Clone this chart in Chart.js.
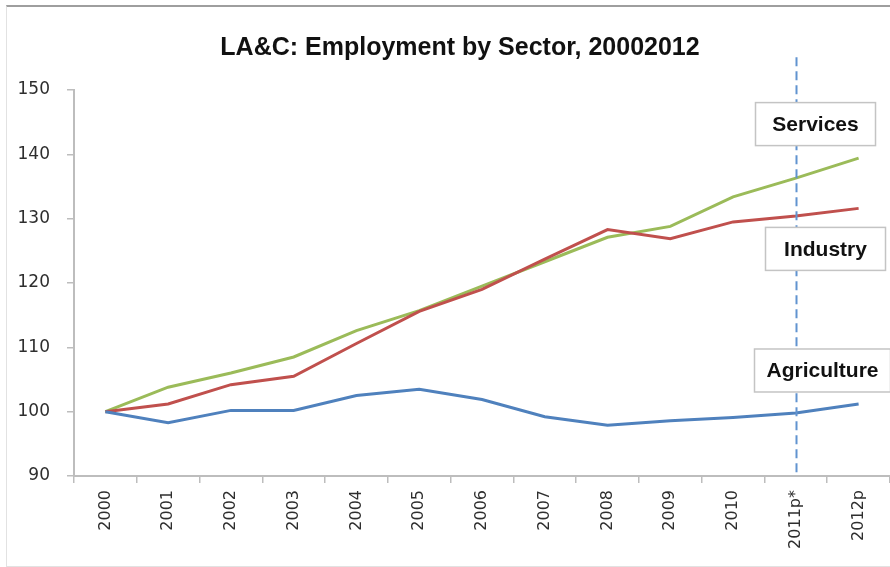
<!DOCTYPE html>
<html>
<head>
<meta charset="utf-8">
<title>LA&amp;C: Employment by Sector</title>
<script src="https://cdn.jsdelivr.net/npm/chart.js@4/dist/chart.umd.min.js"></script>
<style>
  html, body { margin: 0; padding: 0; background: #fff; }
  #wrap { position: relative; width: 890px; height: 567px; overflow: hidden; }
  #frame {
    position: absolute; left: 6px; top: 5px; width: 920px; height: 559px;
    border-top: 2px solid #9e9e9e; border-left: 1px solid #e2e2e2; border-bottom: 1px solid #e2e2e2;
  }
  #chartLite { position: absolute; left: 0; top: 0; }
</style>
</head>
<body>
<div id="wrap">
  <div id="frame"></div>
  <canvas id="chartLite" width="890" height="567"></canvas>
</div>
<script>
// index, 2000 = 100
const years = ['2000', '2001', '2002', '2003', '2004', '2005', '2006', '2007', '2008', '2009', '2010', '2011p*', '2012p'];
const services = [100, 103.8, 106.0, 108.5, 112.6, 115.7, 119.5, 123.3, 127.1, 128.8, 133.4, 136.3, 139.4];
const industry = [100, 101.2, 104.2, 105.5, 110.6, 115.6, 119.0, 123.7, 128.3, 126.9, 129.5, 130.4, 131.6];
const agriculture = [100, 98.3, 100.2, 100.2, 102.5, 103.5, 101.9, 99.2, 97.9, 98.6, 99.1, 99.8, 101.2];
const yTicks = [90, 100, 110, 120, 130, 140, 150];

const titleText = 'LA&C: Employment by Sector, 20002012';
const projectionStart = '2011p*';

// series name boxes, anchored on the projection line
const seriesLabels = [
    { text: 'Services', value: 144.7, dx: 19, w: 120 },
    { text: 'Industry', value: 125.3, dx: 29, w: 120 },
    { text: 'Agriculture', value: 106.4, dx: 26, w: 136 }
];

let data = {
    labels: years,
    datasets: [{
            label: 'Agriculture',
            data: agriculture,
            borderColor: '#4F81BD',
            backgroundColor: '#4F81BD',
            borderWidth: 3,
            pointRadius: 0,
            tension: 0,
            fill: false
        },
        {
            label: 'Industry',
            data: industry,
            borderColor: '#C0504D',
            backgroundColor: '#C0504D',
            borderWidth: 3,
            pointRadius: 0,
            tension: 0,
            fill: false
        },
        {
            label: 'Services',
            data: services,
            borderColor: '#9BBB59',
            backgroundColor: '#9BBB59',
            borderWidth: 3,
            pointRadius: 0,
            tension: 0,
            fill: false
        }
    ]
};

// dashed projection marker, name boxes and title
const overlay = {
    id: 'overlay',
    afterDatasetsDraw(chart) {
        const c = chart.ctx;
        const xs = chart.scales.x, ys = chart.scales.y;
        const px = Math.round(xs.getPixelForValue(years.indexOf(projectionStart))) + 0.5;

        c.save();
        c.strokeStyle = '#6193d0';
        c.lineWidth = 2;
        c.setLineDash([9, 5]);
        c.beginPath();
        c.moveTo(px, ys.getPixelForValue(155.1));
        c.lineTo(px, ys.bottom);
        c.stroke();
        c.restore();

        c.save();
        c.font = 'bold 21px "Liberation Sans", Arial, sans-serif';
        c.textAlign = 'center';
        c.textBaseline = 'middle';
        seriesLabels.forEach(function (lab) {
            const cx = px + lab.dx;
            const cy = ys.getPixelForValue(lab.value);
            const h = 43;
            c.fillStyle = '#ffffff';
            c.fillRect(cx - lab.w / 2, cy - h / 2, lab.w, h);
            c.strokeStyle = '#c4c4c4';
            c.lineWidth = 1.5;
            c.strokeRect(cx - lab.w / 2, cy - h / 2, lab.w, h);
            c.fillStyle = '#111111';
            c.fillText(lab.text, cx, cy + 1);
        });
        c.restore();

        c.save();
        c.font = 'bold 25px "Liberation Sans", Arial, sans-serif';
        c.fillStyle = '#111111';
        c.textAlign = 'center';
        c.textBaseline = 'middle';
        c.fillText(titleText, 460, 48);
        c.restore();
    }
};

let options = {
    responsive: false,
    animation: false,
    layout: {
        padding: { top: 90, left: 0, right: 0, bottom: 0 }
    },
    scales: {
        x: {
            offset: true,
            grid: {
                offset: true,
                drawOnChartArea: false,
                drawTicks: true,
                tickLength: 7,
                color: '#bdbdbd',
                lineWidth: 1.5
            },
            border: { color: '#bdbdbd', width: 2 },
            ticks: {
                autoSkip: false,
                minRotation: 90,
                maxRotation: 90,
                padding: 7,
                color: '#2e2e2e',
                font: { family: '"DejaVu Sans", Verdana, sans-serif', size: 16 }
            },
            afterFit: function (scale) { scale.height = 91; }
        },
        y: {
            min: 90,
            max: 150,
            afterBuildTicks: function (scale) {
                scale.ticks = yTicks.map(function (v) { return { value: v }; });
            },
            grid: {
                drawOnChartArea: false,
                drawTicks: true,
                tickLength: 7,
                color: '#bdbdbd',
                lineWidth: 1.5
            },
            border: { color: '#bdbdbd', width: 2 },
            ticks: {
                padding: 17,
                color: '#2e2e2e',
                font: { family: '"DejaVu Sans", Verdana, sans-serif', size: 17 }
            },
            afterFit: function (scale) { scale.width = 74; }
        }
    },
    plugins: {
        legend: { display: false },
        tooltip: { enabled: false },
        title: { display: false }
    }
};

const ctx = document.getElementById("chartLite").getContext("2d");
const myChart = new Chart(ctx, {
    type: 'line',
    data: data,
    options: options,
    plugins: [overlay]
});
</script>
</body>
</html>
